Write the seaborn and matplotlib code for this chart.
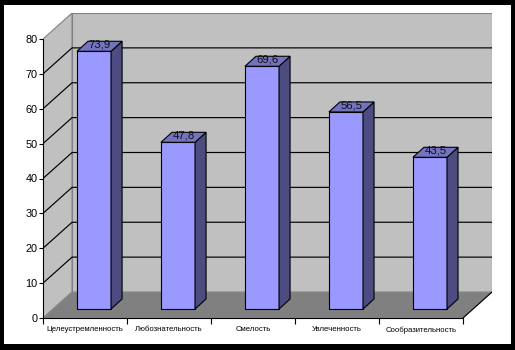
import numpy as np
import matplotlib
matplotlib.use("Agg")
import matplotlib.pyplot as plt
from matplotlib.patches import Polygon, Rectangle
import seaborn as sns

categories = ["Целеустремленность", "Любознательность", "Смелость",
              "Увлеченность", "Сообразительность"]
values = [73.9, 47.8, 69.6, 56.5, 43.5]
value_labels = ["73,9", "47,8", "69,6", "56,5", "43,5"]
y_ticks = [0, 10, 20, 30, 40, 50, 60, 70, 80]

sns.set_theme(style="white")
plt.rcParams["font.family"] = ["Liberation Sans", "DejaVu Sans"]

W, H = 515, 350
fig = plt.figure(figsize=(W / 100, H / 100), dpi=100, facecolor="black")
fig.patches.append(Rectangle((4 / W, 6 / H), 507 / W, 339 / H,
                             transform=fig.transFigure, facecolor="white",
                             edgecolor="none", zorder=-10))

# pixel scale of the front plane, used to express the 3-D depth in data units
px_cat = 83.8
px_val = 3.4875
wall_dx, wall_dy = 29 / px_cat, 26 / px_val
bar_dx0, bar_dy0 = 9 / px_cat, 9 / px_val
bar_ddx, bar_ddy = 11 / px_cat, 10 / px_val
bar_w = 34 / px_cat

y_top = y_ticks[-1]
n = len(categories)
x_left, x_right = -0.5, n - 0.5

ax = fig.add_axes([43 / W, 32 / H, 449 / W, 305 / H])
ax.set_facecolor("none")

# bars (front faces) through seaborn
sns.barplot(x=categories, y=values, color="#9999FF", saturation=1,
            width=bar_w, edgecolor="black", linewidth=0.8, ax=ax, zorder=5)

wall_col = "#C0C0C0"
edge_col = "#808080"

# side wall
ax.add_patch(Polygon([(x_left, 0), (x_left + wall_dx, wall_dy),
                      (x_left + wall_dx, y_top + wall_dy), (x_left, y_top)],
                     closed=True, facecolor=wall_col, edgecolor=edge_col,
                     linewidth=0.8, zorder=0))
# back wall
ax.add_patch(Polygon([(x_left + wall_dx, wall_dy), (x_right + wall_dx, wall_dy),
                      (x_right + wall_dx, y_top + wall_dy),
                      (x_left + wall_dx, y_top + wall_dy)],
                     closed=True, facecolor=wall_col, edgecolor=edge_col,
                     linewidth=0.8, zorder=0))
# gridlines on the walls
for v in y_ticks[1:-1]:
    ax.plot([x_left, x_left + wall_dx, x_right + wall_dx],
            [v, v + wall_dy, v + wall_dy], color="black", linewidth=0.85,
            zorder=1, solid_capstyle="butt")
# floor
ax.add_patch(Polygon([(x_left, 0), (x_right, 0), (x_right + wall_dx, wall_dy),
                      (x_left + wall_dx, wall_dy)],
                     closed=True, facecolor="#808080", edgecolor="#8a8a8a",
                     linewidth=0.8, zorder=2))
ax.plot([x_right, x_right + wall_dx], [0, wall_dy], color="black",
        linewidth=0.8, zorder=2)

# shift bars back into the box and add their side and top faces
for bar, lab in zip(ax.containers[0], value_labels):
    bar.set_x(bar.get_x() + bar_dx0)
    bar.set_y(bar_dy0)
    x0 = bar.get_x()
    x1 = x0 + bar.get_width()
    y0 = bar_dy0
    y1 = bar_dy0 + bar.get_height()
    ax.add_patch(Polygon([(x1, y0), (x1 + bar_ddx, y0 + bar_ddy),
                          (x1 + bar_ddx, y1 + bar_ddy), (x1, y1)],
                         closed=True, facecolor="#4C4C80", edgecolor="black",
                         linewidth=0.8, zorder=5))
    ax.add_patch(Polygon([(x0, y1), (x1, y1), (x1 + bar_ddx, y1 + bar_ddy),
                          (x0 + bar_ddx, y1 + bar_ddy)],
                         closed=True, facecolor="#7373C0", edgecolor="black",
                         linewidth=0.8, zorder=5))
    ax.text((x0 + x1) / 2 + bar_ddx / 2, y1 + bar_ddy / 2 - 0.9, lab,
            ha="center", va="bottom", fontsize=8.2, color="#111111", zorder=6)

ax.set_xlim(x_left, x_right + wall_dx)
ax.set_ylim(0, y_top + wall_dy)

for s in ("top", "right"):
    ax.spines[s].set_visible(False)
for s in ("left", "bottom"):
    ax.spines[s].set_color("black")
    ax.spines[s].set_linewidth(0.8)
    ax.spines[s].set_zorder(4)
ax.spines["left"].set_bounds(0, y_top)
ax.spines["bottom"].set_bounds(x_left, x_right)

ax.set_yticks(y_ticks)
ax.set_yticklabels([str(t) for t in y_ticks])
ax.tick_params(axis="y", left=True, direction="out", length=3, width=0.8,
               color="black", labelsize=7.8, pad=1, labelcolor="black")

ax.set_xticks(np.arange(n + 1) - 0.5)
ax.set_xticklabels([])
ax.set_xticks(np.arange(n), minor=True)
ax.set_xticklabels(categories, minor=True)
ax.tick_params(axis="x", which="major", bottom=True, direction="out",
               length=4, width=0.8, color="black")
ax.tick_params(axis="x", which="minor", bottom=True, length=0, pad=6,
               labelsize=5.6, labelcolor="black")
ax.set_xlabel("")
ax.set_ylabel("")

fig.savefig("out.png", dpi=100, facecolor=fig.get_facecolor())
